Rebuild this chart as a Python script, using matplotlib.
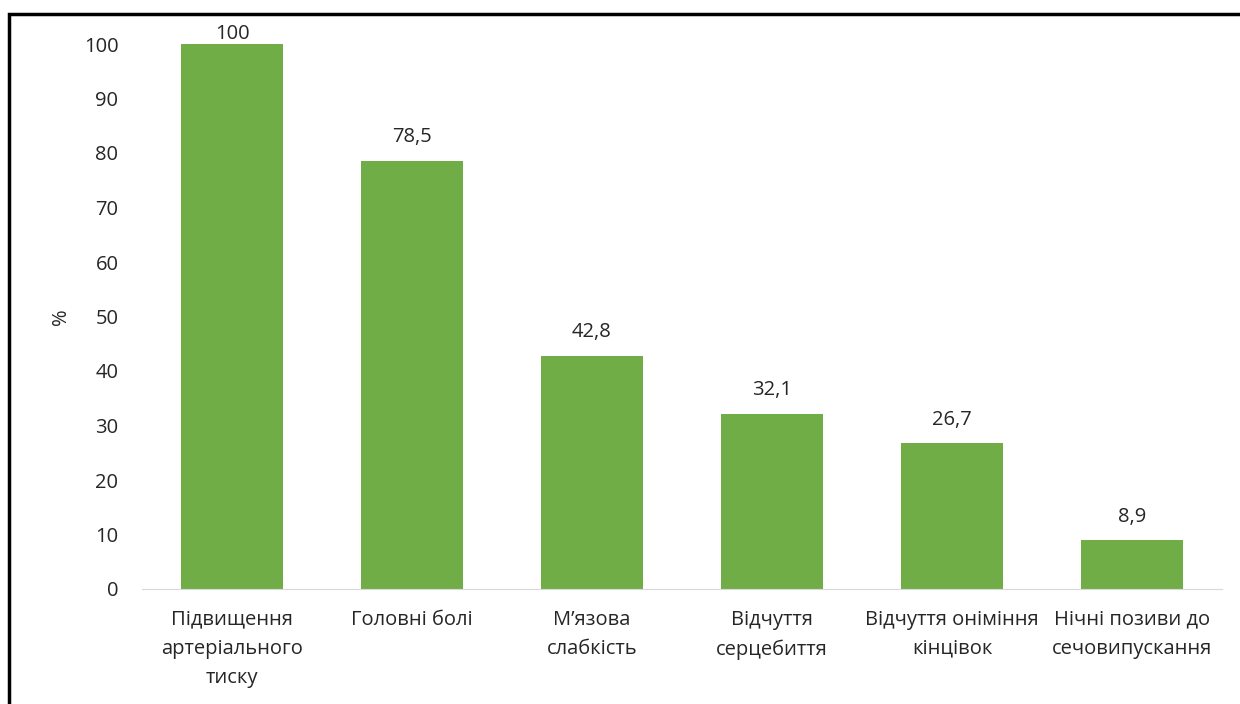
import matplotlib.pyplot as plt
from matplotlib.patches import Rectangle

plt.rcParams['font.family'] = ['Open Sans', 'DejaVu Sans']

# symptoms and their share, %
categories = ['Підвищення\nартеріального\nтиску', 'Головні болі', 'М’язова\nслабкість',
              'Відчуття\nсерцебиття', 'Відчуття оніміння\nкінцівок', 'Нічні позиви до\nсечовипускання']
values = [100, 78.5, 42.8, 32.1, 26.7, 8.9]
value_labels = ['100', '78,5', '42,8', '32,1', '26,7', '8,9']

fig = plt.figure(figsize=(12.4, 7.04), dpi=100)
ax = fig.add_axes([142 / 1240, 115 / 704, 1080 / 1240, 545 / 704])

x = range(len(categories))
bars = ax.bar(x, values, width=0.57, color='#70AD47')

for b, lab in zip(bars, value_labels):
    # the top label is pushed down so it stays inside the chart area
    off = 0 if b.get_height() >= 99 else 10
    ax.annotate(lab, (b.get_x() + b.get_width() / 2, b.get_height()),
                xytext=(0, off), textcoords='offset points',
                ha='center', va='bottom', fontsize=14.5, color='#262626')

ax.set_xlim(-0.5, len(categories) - 0.5)
ax.set_ylim(0, 100)
ax.set_yticks(range(0, 101, 10))
ax.set_xticks(list(x))
ax.set_xticklabels(categories, fontsize=14.5, color='#262626', linespacing=1.6)
ax.tick_params(axis='y', labelsize=14.5, labelcolor='#262626', length=0, pad=17)
ax.tick_params(axis='x', length=0, pad=15)
ax.set_ylabel('%', fontsize=14.5, color='#262626', labelpad=9)

for s in ['top', 'right', 'left']:
    ax.spines[s].set_visible(False)
ax.spines['bottom'].set_color('#D9D9D9')

# frame around the chart
fig.add_artist(Rectangle((9 / 1240, -0.1), 1.2, (704 - 14) / 704 + 0.1,
                         transform=fig.transFigure, fill=False,
                         edgecolor='black', linewidth=2.5, clip_on=False))

fig.savefig('out.png', dpi=100)
